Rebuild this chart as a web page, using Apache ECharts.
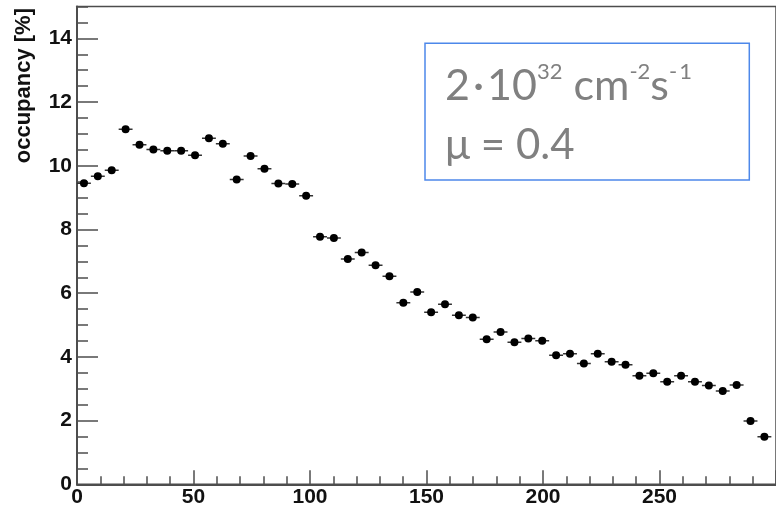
<!DOCTYPE html>
<html>
<head>
<meta charset="utf-8">
<script src="https://cdn.jsdelivr.net/npm/echarts@6/dist/echarts.min.js"></script>
<style>
html,body{margin:0;padding:0;background:#fff;}
#chart{width:776px;height:510px;}
</style>
</head>
<body>
<div id="chart"></div>
<script>
// ---- data ----
const binCenters = [2.98, 8.94, 14.90, 20.86, 26.82, 32.78, 38.74, 44.70, 50.66, 56.62,
  62.58, 68.54, 74.50, 80.46, 86.42, 92.38, 98.34, 104.30, 110.26, 116.22,
  122.18, 128.14, 134.10, 140.06, 146.02, 151.98, 157.94, 163.90, 169.86, 175.82,
  181.78, 187.74, 193.70, 199.66, 205.62, 211.58, 217.54, 223.50, 229.46, 235.42,
  241.38, 247.34, 253.30, 259.26, 265.22, 271.18, 277.14, 283.10, 289.06, 295.02];
const occupancy = [9.45, 9.67, 9.86, 11.15, 10.66, 10.51, 10.47, 10.47, 10.33, 10.86,
  10.69, 9.57, 10.31, 9.91, 9.44, 9.43, 9.06, 7.77, 7.73, 7.07,
  7.28, 6.88, 6.53, 5.70, 6.04, 5.40, 5.65, 5.31, 5.24, 4.55,
  4.78, 4.46, 4.58, 4.51, 4.05, 4.10, 3.79, 4.10, 3.85, 3.75,
  3.41, 3.49, 3.22, 3.41, 3.22, 3.10, 2.93, 3.12, 1.99, 1.49];
const binHalfWidth = 2.98;
const xTickValues = [0, 50, 100, 150, 200, 250, 300];
const yTickValues = [0, 2, 4, 6, 8, 10, 12, 14];
const yTitle = 'occupancy [%]';
const boxLine2 = 'μ = 0.4';

const points = binCenters.map((x, i) => [x, occupancy[i]]);

const axisColor = '#4d4d4d';
const labelFont = {fontFamily: 'Liberation Sans', fontWeight: 'bold', fontSize: 21, color: '#111'};
const grayText = '#808080';

const chart = echarts.init(document.getElementById('chart'), null, {renderer: 'canvas'});

const option = {
  animation: false,
  backgroundColor: '#fff',
  grid: {
    left: 77, top: 6.5, width: 707.7, height: 477.8,
    show: true, borderColor: axisColor, borderWidth: 1.5, backgroundColor: 'transparent'
  },
  xAxis: {
    type: 'value', min: xTickValues[0], max: xTickValues[xTickValues.length - 1], interval: 50,
    axisLine: {show: true, lineStyle: {color: axisColor, width: 2}},
    axisTick: {show: true, inside: true, length: 14, lineStyle: {color: axisColor, width: 1.5}},
    minorTick: {show: true, splitNumber: 5, length: 8, lineStyle: {color: axisColor, width: 1.5}},
    axisLabel: Object.assign({margin: 2, showMaxLabel: false}, labelFont),
    splitLine: {show: false}
  },
  yAxis: [{
    type: 'value', min: 0, max: 15, interval: 2,
    axisLine: {show: true, lineStyle: {color: axisColor, width: 2}},
    axisTick: {show: true, inside: true, length: 21, lineStyle: {color: axisColor, width: 1.5}},
    axisLabel: Object.assign({margin: 5, showMaxLabel: false,
      formatter: v => (yTickValues.indexOf(v) >= 0 ? String(v) : '')}, labelFont),
    splitLine: {show: false}
  }, {
    type: 'value', min: 0, max: 15, interval: 0.5, position: 'left', offset: 0,
    axisLine: {show: false},
    axisTick: {show: true, inside: true, length: 11, lineStyle: {color: axisColor, width: 1.5}},
    axisLabel: {show: false},
    splitLine: {show: false}
  }],
  series: [{
    type: 'custom',
    data: points,
    clip: true,
    renderItem: function (params, api) {
      const x = api.value(0), y = api.value(1);
      const c = api.coord([x, y]);
      const l = api.coord([x - binHalfWidth, y]);
      const r = api.coord([x + binHalfWidth, y]);
      return {
        type: 'group',
        children: [
          {type: 'line', shape: {x1: l[0], y1: l[1], x2: r[0], y2: r[1]},
           style: {stroke: '#333', lineWidth: 1.5}},
          {type: 'circle', shape: {cx: c[0], cy: c[1], r: 4}, style: {fill: '#000'}}
        ]
      };
    }
  }],
  graphic: [
    {
      type: 'text', x: 24, y: 8, rotation: Math.PI / 2,
      style: {text: yTitle, font: 'bold 22px "Liberation Sans"', fill: '#111',
              align: 'right', verticalAlign: 'middle'}
    },
    {
      type: 'rect', shape: {x: 425, y: 43.3, width: 324.3, height: 136.7},
      style: {fill: '#fff', stroke: '#4d88ea', lineWidth: 1.5}
    },
    {
      type: 'text', x: 445, y: 61,
      style: {
        text: '{a|2}{d|·}{a|10}{b|32}{a| cm}{b|-2}{a|s}{b|-}{e|1}',
        align: 'left', verticalAlign: 'top',
        rich: {
          a: {fontFamily: 'Lato', fontSize: 43, lineHeight: 50, fill: grayText},
          d: {fontFamily: 'Lato', fontSize: 43, lineHeight: 50, fill: grayText, padding: [0, 3, 0, 3]},
          b: {fontFamily: 'Lato', fontSize: 22, lineHeight: 46, verticalAlign: 'top', fill: grayText},
          e: {fontFamily: 'Lato', fontSize: 22, lineHeight: 46, verticalAlign: 'top', fill: grayText,
              padding: [0, 0, 0, 2]}
        }
      }
    },
    {
      type: 'text', x: 445, y: 121,
      style: {text: boxLine2, font: '42px Lato', fill: grayText, align: 'left', verticalAlign: 'top',
              lineHeight: 48}
    }
  ]
};
chart.setOption(option);
</script>
</body>
</html>
